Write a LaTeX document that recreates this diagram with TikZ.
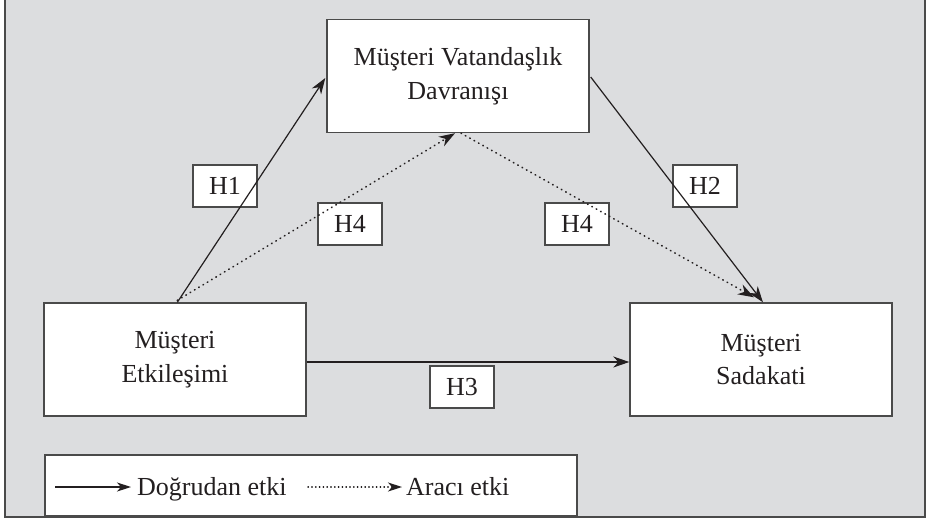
\documentclass[tikz,border=0pt]{standalone}
\usepackage{fontspec}
\setmainfont{Liberation Serif}
\usetikzlibrary{arrows.meta,calc}
\definecolor{bggray}{HTML}{DCDDDF}
\definecolor{framegray}{HTML}{4A4A4A}
\definecolor{ink}{HTML}{231F20}
\tikzset{
  mainbox/.style={draw=framegray, line width=1.4pt, fill=white, minimum width=262pt, minimum height=113pt, align=center, text=ink, font=\fontsize{26}{33.5}\selectfont, inner sep=0pt},
  hbox/.style={draw=framegray, line width=1.2pt, fill=white, minimum width=64pt, minimum height=42pt, text=ink, font=\fontsize{26}{30}\selectfont, inner sep=0pt},
  direct/.style={draw=ink, line width=1.2pt, -{Stealth[length=16pt,width=11pt,inset=5pt]}},
  indirect/.style={draw=ink, line width=1.6pt, line cap=round, dash pattern=on 0.6pt off 4.4pt, -{Stealth[length=16pt,width=11pt,inset=5pt]}},
  legdirect/.style={draw=ink, line width=1.2pt, -{Stealth[length=14pt,width=9pt,inset=4pt]}},
  legindirect/.style={draw=ink, line width=1.4pt, line cap=round, dash pattern=on 0.4pt off 3.4pt, -{Stealth[length=14pt,width=9pt,inset=4pt]}},
  legtext/.style={text=ink, font=\fontsize{26}{30}\selectfont, inner sep=0pt, anchor=base west}
}
\begin{document}
\begin{tikzpicture}[x=1pt,y=-1pt]
\useasboundingbox (0,0) rectangle (928,520);
\fill[white] (0,0) rectangle (928,520);
\draw[fill=bggray, draw=framegray, line width=1.6pt] (5,-10) rectangle (925,517);

% main boxes
\node[mainbox] (T) at (458,76) {Müşteri Vatandaşlık\\Davranışı};
\node[mainbox] (L) at (175,359.5) {Müşteri\\Etkileşimi};
\node[mainbox] (R) at (761,359.5) {Müşteri\\Sadakati};

% hypothesis labels
\node[hbox] (h1) at (225,186) {H1};
\node[hbox] (h4a) at (350,224) {H4};
\node[hbox] (h4b) at (577,224) {H4};
\node[hbox] (h2) at (705,186) {H2};
\node[hbox] (h3) at (462,387) {H3};

% connectors
\draw[direct] ([xshift=134pt]L.north west) -- ([xshift=-1pt,yshift=-2pt]T.west);
\draw[indirect] ([xshift=134pt,yshift=2pt]L.north west) -- ([xshift=-3pt]T.south);
\draw[indirect] ([xshift=3pt]T.south) -- ([xshift=-7pt,yshift=5pt]R.north);
\draw[direct] ([xshift=1pt,yshift=-1pt]T.east) -- ([xshift=2pt]R.north);
\draw[direct] ([yshift=-2.5pt]L.east) -- ([yshift=-2.5pt]R.west);

% legend
\node[draw=framegray, line width=1.4pt, fill=white, minimum width=532pt, minimum height=61pt, inner sep=0pt] (leg) at (311,485.5) {};
\coordinate (la1) at (55,487);
\coordinate (la2) at (131,487);
\coordinate (lb1) at (308,487);
\coordinate (lb2) at (402,487);
\draw[legdirect] (la1) -- (la2);
\draw[legindirect] (lb1) -- (lb2);
\node[legtext] (t1) at (137,495) {Doğrudan etki};
\node[legtext] (t2) at (406,495) {Aracı etki};
\end{tikzpicture}
\end{document}
